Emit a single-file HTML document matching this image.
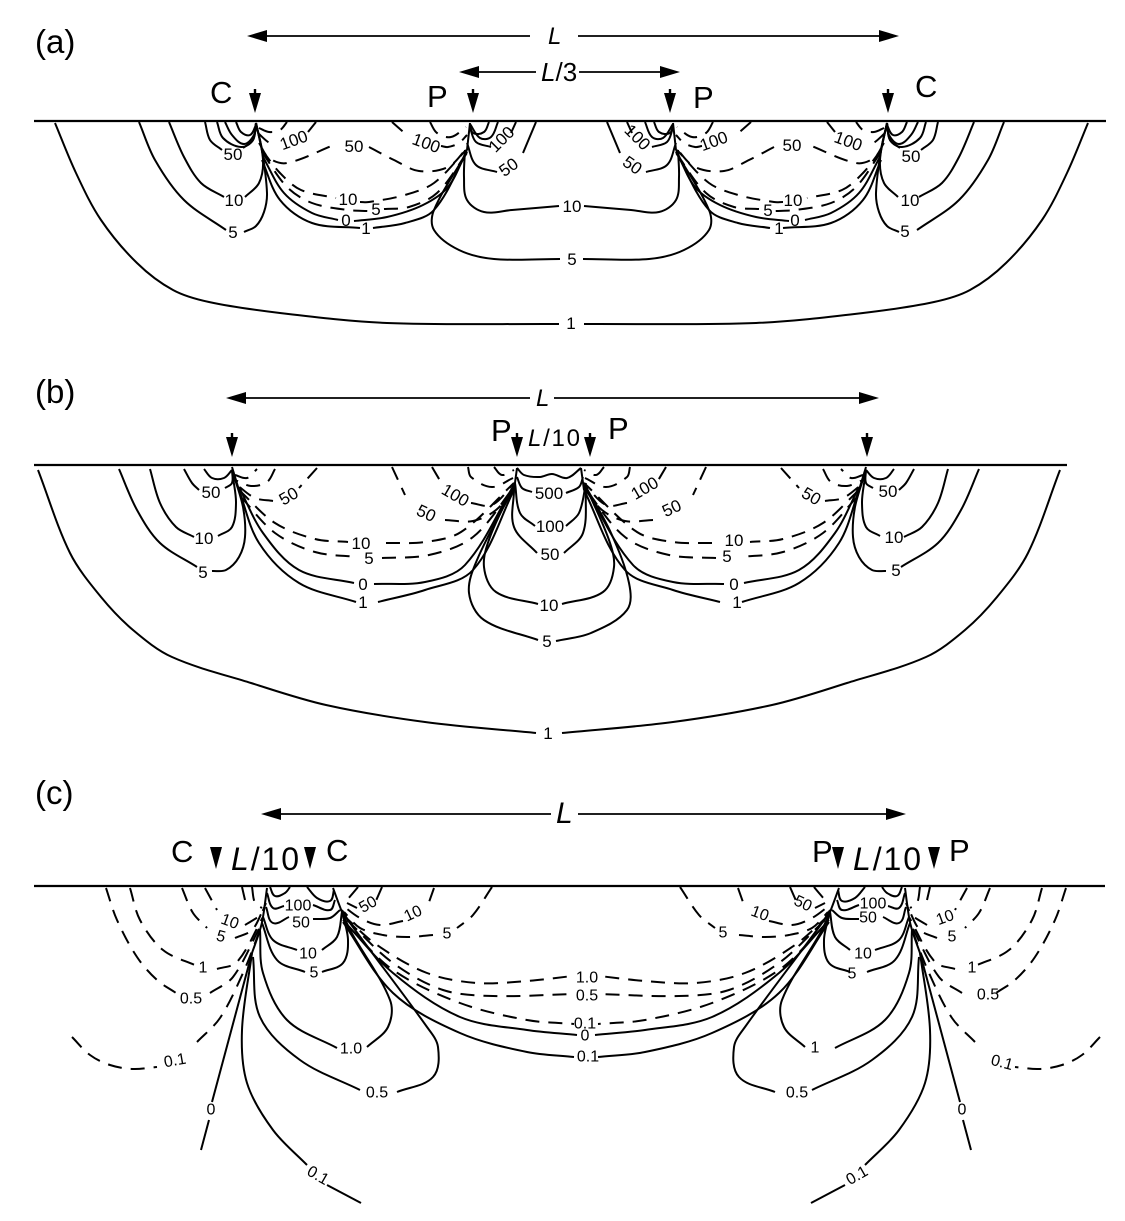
<!DOCTYPE html>
<html>
<head>
<meta charset="utf-8">
<title>Contour diagram</title>
<style>
html,body{margin:0;padding:0;background:#fff;}
svg{display:block;}
text{font-family:"Liberation Sans",sans-serif;fill:#000;}
.t{font-size:17px;text-anchor:middle;}
.tc{font-size:16px;text-anchor:middle;}
.b{font-size:31px;}
.h{font-size:33px;}
.i{font-style:italic;}
.lines{fill:none;stroke:#000;stroke-width:2;stroke-linejoin:round;stroke-linecap:butt;}
.d{stroke-dasharray:14 9;}
.base{stroke:#000;stroke-width:2.2;fill:none;}
.thin{stroke:#000;stroke-width:1.8;fill:none;}
</style>
</head>
<body>
<svg xmlns="http://www.w3.org/2000/svg" width="1125" height="1221" viewBox="0 0 1125 1221">
<rect width="1125" height="1221" fill="#fff"/>

<!-- PANEL A -->
<text class="h" x="35" y="53">(a)</text>
<text class="i" x="548" y="44" font-size="24">L</text>
<path class="thin" d="M262 36H530M578 36H884"/>
<polygon points="247,36 267,30 267,42"/><polygon points="899,36 879,30 879,42"/>
<text x="541" y="81" font-size="26"><tspan class="i">L</tspan>/3</text>
<path class="thin" d="M474 72H536M579 72H665"/>
<polygon points="459,72 479,66 479,78"/><polygon points="680,72 660,66 660,78"/>
<text class="b" x="210" y="103">C</text><text class="b" x="427" y="107">P</text>
<text class="b" x="693" y="108">P</text><text class="b" x="915" y="97">C</text>
<path class="base" d="M34 121H1106"/>
<g id="arrA">
<polygon points="253.800,89 256.200,89 256.200,93 261,93 255,113 249,93 253.800,93"/>
<polygon points="471.800,89 474.200,89 474.200,93 479,93 473,113 467,93 471.800,93"/>
</g>
<use href="#arrA" transform="translate(1143 0) scale(-1 1)"/>

<g id="ca" class="lines">
<polyline points="55,123 76,173 101,220 137,263 173,290 209,302 280,313 387,323 559,324"/>
<polyline points="139,122 155,160 184,200 226,230"/>
<polyline points="244,232 256,226 264,212 267,193 262,150 256,123"/>
<polyline points="169,122 184,157 201,183 224,197"/>
<polyline points="245,197 259,183 263,160 256,123"/>
<polyline points="205,122 210,140 222,150"/>
<polyline points="243,148 253,140 256,123"/>
<polyline points="217,122 223,138 241,147 253,140 256,123"/>
<polyline points="225,122 232,135 244,144 254,135 256,123"/>
<polyline points="236,122 241,132 250,135 256,125"/>
<polyline points="256,123 262,150"/>
<polyline points="470,123 467,150"/>
<polyline class="d" points="259,128 269,132 280,130 287,122"/>
<polyline class="d" points="258,133 268,142 276,146"/>
<polyline points="308,132 316,122"/>
<polyline class="d" points="259,143 269,158 287,163 334,145"/>
<polyline class="d" points="369,147 394,160 419,171 448,167 467,148"/>
<polyline class="d" points="392,122 409,137"/>
<polyline class="d" points="441,146 448,147 459,143 467,135"/>
<polyline class="d" points="430,122 437,133 451,137 466,127"/>
<polyline class="d" points="262,150 280,173 301,190 336,198"/>
<polyline class="d" points="360,202 369,202 405,195 434,183 466,150"/>
<polyline class="d" points="262,152 287,187 312,203 348,210 368,211"/>
<polyline class="d" points="384,209 409,207 437,193 467,153"/>
<polyline points="263,157 284,193 312,213 338,220"/>
<polyline points="354,221 387,217 423,205 448,187 467,150"/>
<polyline points="262,160 280,200 312,223 360,228"/>
<polyline points="373,228 405,223 434,210 467,152"/>
<polyline points="467,152 434,210 434,230 459,250 494,259 560,259"/>
<polyline points="465,150 464,177 467,200 484,212 512,210 559,206"/>
<polyline points="489,122 484,132 473,133 470,124"/>
<polyline points="498,122 491,137 480,138 470,124"/>
<polyline points="516,122 511,133"/>
<polyline points="491,147 476,142 470,128"/>
<polyline points="536,122 523,153"/>
<polyline points="497,172 476,165 467,143"/>
</g>
<use href="#ca" transform="translate(1143 0) scale(-1 1)"/>

<g class="t" transform="translate(0 0.8)">
<text x="233" y="159">50</text>
<text x="294" y="145" transform="rotate(-20 294 140)">100</text>
<text x="354" y="151">50</text>
<text x="426" y="148" transform="rotate(20 426 143)">100</text>
<text x="502" y="144" transform="rotate(-45 502 139)">100</text>
<text x="509" y="172" transform="rotate(-35 509 167)">50</text>
<text x="234" y="205">10</text><text x="233" y="237">5</text>
<text x="348" y="204">10</text><text x="376" y="214">5</text>
<text x="346" y="225">0</text><text x="366" y="233">1</text>
<text x="572" y="211">10</text><text x="572" y="264">5</text><text x="571" y="328">1</text>
<text x="637" y="142" transform="rotate(45 637 137)">100</text>
<text x="632" y="170" transform="rotate(35 632 165)">50</text>
<text x="714" y="146" transform="rotate(-20 714 141)">100</text>
<text x="792" y="150">50</text>
<text x="848" y="146" transform="rotate(20 848 141)">100</text>
<text x="793" y="205">10</text><text x="768" y="215">5</text>
<text x="795" y="225">0</text><text x="779" y="233">1</text>
<text x="910" y="205">10</text><text x="905" y="236">5</text><text x="911" y="161">50</text>
</g>

<!-- PANEL B -->
<text class="h" x="35" y="403">(b)</text>
<text class="i" x="536" y="406" font-size="24">L</text>
<path class="thin" d="M241 398H530M554 398H864"/>
<polygon points="226,398 246,392 246,404"/><polygon points="879,398 859,392 859,404"/>
<text class="b" x="491" y="441">P</text><text class="b" x="608" y="439">P</text>
<text x="528" y="446" font-size="24" textLength="52" lengthAdjust="spacing"><tspan class="i">L</tspan>/10</text>
<path class="base" d="M34 465H1067"/>
<polygon points="230.800,433 233.200,433 233.200,437 238,437 232,457 226,437 230.800,437"/>
<polygon points="515.800,433 518.200,433 518.200,437 523,437 517,457 511,437 515.800,437"/>
<polygon points="588.800,433 591.200,433 591.200,437 596,437 590,457 584,437 588.800,437"/>
<polygon points="865.800,433 868.200,433 868.200,437 873,437 867,457 861,437 865.800,437"/>

<g id="cb" class="lines">
<polyline points="38,470 70,553 101,597 133,630 172,657 251,683 326,705 425,722 536,733"/>
<polyline points="119,469 137,510 160,543 197,567"/>
<polyline points="212,571 226,570 239,557 245,537 243,507 233,473"/>
<polyline points="150,469 160,503 176,527 194,537"/>
<polyline points="218,536 232,527 236,503 233,477"/>
<polyline points="184,469 192,483 199,490"/>
<polyline points="225,488 232,483 232,470"/>
<polyline points="204,469 212,478 224,478 232,470"/>
<polyline points="232,467 239,490"/>
<polyline points="517,468 514,490"/>
<polyline class="d" points="235,475 247,478 257,469"/>
<polyline class="d" points="275,469 267,482 251,486 235,480"/>
<polyline class="d" points="317,468 299,488"/>
<polyline class="d" points="273,501 255,498 237,485"/>
<polyline class="d" points="239,490 275,523 315,539 348,542"/>
<polyline class="d" points="386,543 425,542 461,532 514,483"/>
<polyline class="d" points="241,497 275,533 315,552 358,557"/>
<polyline class="d" points="382,558 429,555 473,537 514,487"/>
<polyline points="239,487 263,533 299,570 354,583"/>
<polyline points="374,584 425,582 465,565 514,485"/>
<polyline points="239,490 259,543 299,583 356,602"/>
<polyline points="378,602 425,590 473,570 514,490"/>
<polyline class="d" points="392,467 405,495"/>
<polyline class="d" points="445,520 473,521 496,510 514,488"/>
<polyline class="d" points="432,467 442,484"/>
<polyline class="d" points="471,503 492,505 514,483"/>
<polyline class="d" points="468,467 471,477 492,487 513,478"/>
<polyline class="d" points="494,467 502,475 514,470"/>
</g>
<use href="#cb" transform="translate(1098 0) scale(-1 1)"/>

<g class="lines">
<polyline points="517,468 524,475 540,477 552,474 567,478 581,468"/>
<polyline points="517,477 522,488 532,492"/>
<polyline points="566,493 579,487 583,477"/>
<polyline points="515,483 520,513 535,526"/>
<polyline points="566,526 579,513 586,483"/>
<polyline points="514,490 514,527 537,553"/>
<polyline points="564,553 583,533 586,490"/>
<polyline points="514,485 490,537 484,567 496,592 538,604"/>
<polyline points="562,604 603,592 614,567 609,540 586,487"/>
<polyline points="514,487 477,560 469,593 484,620 538,640"/>
<polyline points="556,641 591,633 627,610 629,583 611,533 586,487"/>
</g>

<g class="t" transform="translate(0 0.8)">
<text x="211" y="497">50</text><text x="204" y="543">10</text><text x="203" y="577">5</text>
<text x="289" y="501" transform="rotate(-30 289 496)">50</text>
<text x="361" y="548">10</text><text x="369" y="563">5</text>
<text x="363" y="589">0</text><text x="363" y="607">1</text>
<text x="426" y="518" transform="rotate(25 426 513)">50</text>
<text x="455" y="500" transform="rotate(30 455 495)">100</text>
<text x="549" y="498">500</text><text x="550" y="531">100</text><text x="550" y="559">50</text>
<text x="549" y="610">10</text><text x="547" y="646">5</text><text x="548" y="738">1</text>
<text x="645" y="493" transform="rotate(-30 645 488)">100</text>
<text x="672" y="513" transform="rotate(-25 672 508)">50</text>
<text x="811" y="501" transform="rotate(30 811 496)">50</text>
<text x="734" y="545">10</text><text x="727" y="561">5</text>
<text x="734" y="589">0</text><text x="737" y="607">1</text>
<text x="888" y="496">50</text><text x="894" y="542">10</text><text x="896" y="575">5</text>
</g>

<!-- PANEL C -->
<text class="h" x="35" y="804">(c)</text>
<text class="i" x="556" y="823" font-size="30">L</text>
<path class="thin" d="M276 814H551M578 814H891"/>
<polygon points="261,814 281,808 281,820"/><polygon points="906,814 886,808 886,820"/>
<text class="b" x="171" y="862">C</text><text class="b" x="326" y="861">C</text>
<text class="b" x="812" y="862">P</text><text class="b" x="949" y="861">P</text>
<text x="231" y="870" font-size="32" textLength="68" lengthAdjust="spacing"><tspan class="i">L</tspan>/10</text>
<text x="853" y="870" font-size="32" textLength="68" lengthAdjust="spacing"><tspan class="i">L</tspan>/10</text>
<path class="base" d="M34 886H1105"/>
<polygon points="210,847 222,847 216,869"/>
<polygon points="304,847 316,847 310,869"/>
<polygon points="832,847 844,847 838,869"/>
<polygon points="928,847 940,847 934,869"/>

<g id="cc" class="lines">
<polyline points="267,888 263,917 260,930 252,953"/>
<polyline points="333,888 342,912 350,930"/>
<polyline class="d" points="72,1037 90,1055 110,1065 133,1069 157,1067"/>
<polyline class="d" points="197,1042 220,1018 243,973 260,930"/>
<polyline class="d" points="106,888 117,920 137,957 157,980 176,993"/>
<polyline class="d" points="210,993 233,977 260,927"/>
<polyline class="d" points="130,888 140,920 163,950 197,966"/>
<polyline class="d" points="217,969 237,962 263,917"/>
<polyline class="d" points="182,888 193,913 207,928"/>
<polyline class="d" points="235,938 252,930 263,910"/>
<polyline class="d" points="205,888 217,910"/>
<polyline class="d" points="245,925 260,915 266,903"/>
<polyline class="d" points="242,887 245,900"/>
<polyline class="d" points="252,887 255,903 262,908"/>
<polyline points="270,887 275,896 285,893 290,887"/>
<polyline points="267,893 273,908 284,906"/>
<polyline points="313,905 330,910 335,900"/>
<polyline points="307,887 317,898 330,901 334,890"/>
<polyline points="266,907 273,923 289,917"/>
<polyline points="313,919 330,918 340,910"/>
<polyline points="263,917 273,940 297,950"/>
<polyline points="322,950 337,937 342,912"/>
<polyline points="262,923 277,960 305,972"/>
<polyline points="322,972 343,963 348,940 342,912"/>
<polyline points="260,930 263,973 287,1020 337,1048"/>
<polyline points="367,1047 388,1027 390,1000 350,930 342,912"/>
<polyline points="253,957 260,1017 300,1060 360,1090"/>
<polyline points="397,1092 433,1077 438,1047 427,1027 350,923 342,910"/>
<polyline points="252,953 242,1030 247,1083 273,1130 307,1165"/>
<polyline points="327,1185 361,1203"/>
<polyline points="252,953 212,1102"/>
<polyline points="209,1120 201,1150"/>
<polyline class="d" points="358,887 353,893 347,900"/>
<polyline class="d" points="382,887 375,903"/>
<polyline class="d" points="357,908 347,903"/>
<polyline class="d" points="434,888 428,905"/>
<polyline class="d" points="403,921 380,925 360,918 342,905"/>
<polyline class="d" points="492,887 473,915 457,928"/>
<polyline class="d" points="433,935 407,937 383,935 360,928 344,912"/>
<polyline class="d" points="343,915 377,945 427,973 477,983 527,981 573,976"/>
<polyline class="d" points="347,920 393,963 443,990 493,996 574,994"/>
<polyline class="d" points="347,925 393,970 460,1003 527,1020 574,1024"/>
<polyline points="343,920 393,973 460,1017 527,1030 577,1035"/>
<polyline points="343,922 393,993 460,1033 527,1052 574,1057"/>
</g>
<use href="#cc" transform="translate(1172 0) scale(-1 1)"/>

<g class="tc" transform="translate(0 0.5)">
<text x="175" y="1065" transform="rotate(-10 175 1060)">0.1</text>
<text x="191" y="1003">0.5</text><text x="203" y="972">1</text>
<text x="221" y="941" transform="rotate(15 221 936)">5</text>
<text x="230" y="926" transform="rotate(20 230 921)">10</text>
<text x="298" y="910">100</text><text x="301" y="927">50</text>
<text x="308" y="958">10</text><text x="314" y="977">5</text>
<text x="351" y="1053">1.0</text><text x="377" y="1097">0.5</text>
<text x="318" y="1180" transform="rotate(30 318 1175)">0.1</text>
<text x="211" y="1114">0</text>
<text x="368" y="909" transform="rotate(-30 368 904)">50</text>
<text x="413" y="918" transform="rotate(-25 413 913)">10</text>
<text x="447" y="938">5</text>
<text x="587" y="982">1.0</text><text x="587" y="1000">0.5</text>
<text x="585" y="1028">0.1</text><text x="585" y="1040">0</text><text x="588" y="1061">0.1</text>
<text x="1002" y="1067" transform="rotate(15 1002 1062)">0.1</text>
<text x="988" y="999">0.5</text><text x="972" y="972">1</text>
<text x="952" y="941">5</text>
<text x="945" y="922" transform="rotate(-20 945 917)">10</text>
<text x="873" y="908">100</text><text x="868" y="922">50</text>
<text x="863" y="958">10</text><text x="852" y="978">5</text>
<text x="815" y="1052">1</text><text x="797" y="1097">0.5</text>
<text x="857" y="1180" transform="rotate(-30 857 1175)">0.1</text>
<text x="962" y="1114">0</text>
<text x="803" y="908" transform="rotate(25 803 903)">50</text>
<text x="760" y="918" transform="rotate(20 760 913)">10</text>
<text x="723" y="937">5</text>
</g>
</svg>
<script>
(function(){
var NS="http://www.w3.org/2000/svg";
var pls=document.querySelectorAll("polyline");
for(var n=0;n<pls.length;n++){
  var el=pls[n],v=el.getAttribute("points").trim().split(/\s+/),p=[];
  for(var i=0;i<v.length;i++){var c=v[i].split(",");p.push([+c[0],+c[1]]);}
  if(p.length<3)continue;
  var tan=[];
  for(i=0;i<p.length;i++){
    var a=p[Math.max(i-1,0)],b=p[Math.min(i+1,p.length-1)];
    var dx=b[0]-a[0],dy=b[1]-a[1],l=Math.sqrt(dx*dx+dy*dy)||1;
    tan.push([dx/l,dy/l]);
  }
  var d="M"+p[0][0]+" "+p[0][1];
  for(i=0;i<p.length-1;i++){
    var sx=p[i+1][0]-p[i][0],sy=p[i+1][1]-p[i][1],s=Math.sqrt(sx*sx+sy*sy)*0.33;
    d+="C"+(p[i][0]+tan[i][0]*s).toFixed(1)+" "+(p[i][1]+tan[i][1]*s).toFixed(1)+" "+
       (p[i+1][0]-tan[i+1][0]*s).toFixed(1)+" "+(p[i+1][1]-tan[i+1][1]*s).toFixed(1)+" "+p[i+1][0]+" "+p[i+1][1];
  }
  var q=document.createElementNS(NS,"path");
  q.setAttribute("d",d);
  if(el.getAttribute("class"))q.setAttribute("class",el.getAttribute("class"));
  el.parentNode.replaceChild(q,el);
}
})();
</script>
</body>
</html>
